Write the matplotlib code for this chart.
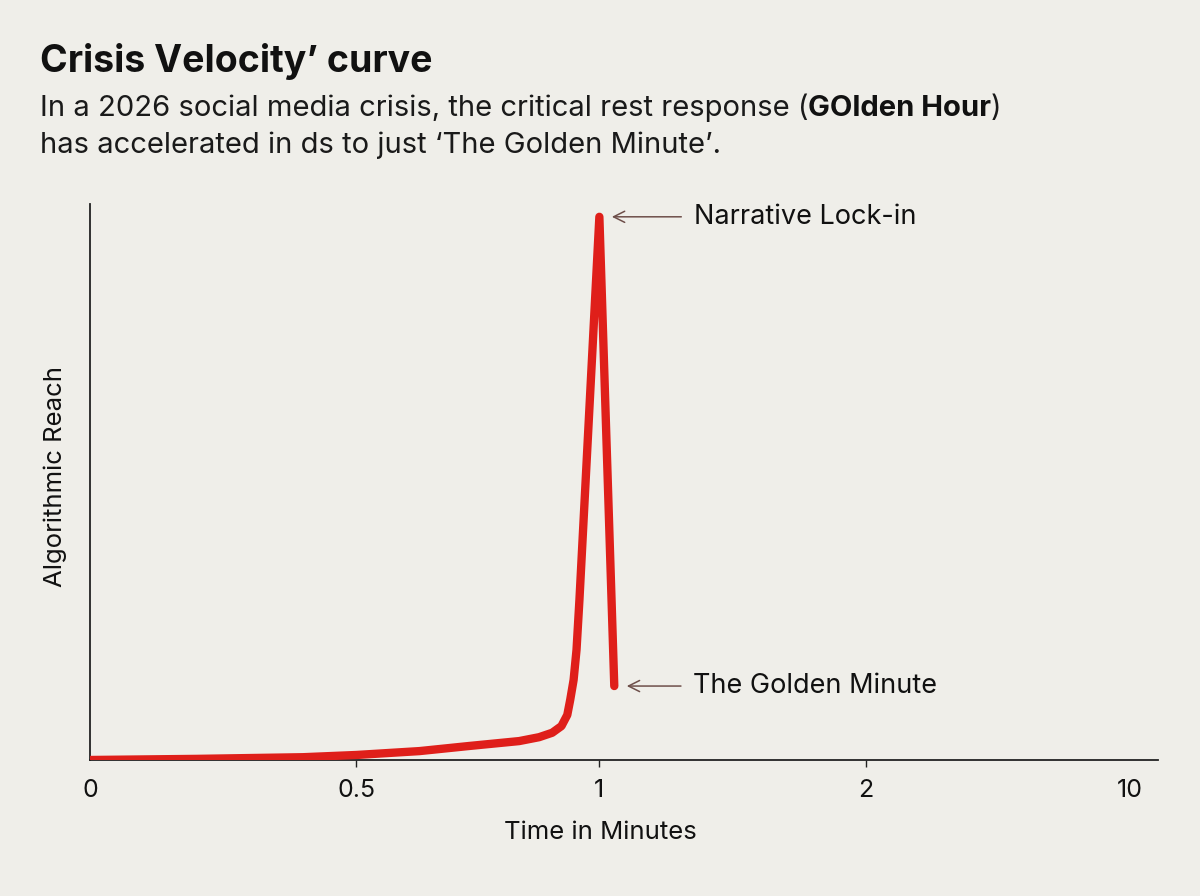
import numpy as np
import matplotlib.pyplot as plt

plt.rcParams['font.family'] = ['Inter', 'DejaVu Sans']

# tick values (minutes) and where they sit along the axis (even-ish spacing)
tick_values = [0, 0.5, 1, 2, 10]
tick_labels = ['0', '0.5', '1', '2', '10']
scale_values = [0, 0.5, 1, 2, 10, 11]
scale_slots = [0, 1.0, 1.913, 2.913, 3.906, 4.011]

# curve: time in minutes, reach 0-100
minutes = [0, 0.2, 0.4, 0.5, 0.63, 0.73, 0.835, 0.876, 0.903, 0.922, 0.934,
           0.94, 0.947, 0.953, 0.959, 1.0, 1.056]
reach = [0, 0.2, 0.5, 0.9, 1.6, 2.5, 3.4, 4.1, 4.9, 6.1, 8.1,
         10.8, 14.4, 19.8, 28.8, 97.7, 13.3]

peak_label = 'Narrative Lock-in'
end_label = 'The Golden Minute'

bg = '#efeee9'
red = '#df1f1a'
arrow_col = '#6e4f4a'


def forward(x):
    return np.interp(x, scale_values, scale_slots)


def inverse(x):
    return np.interp(x, scale_slots, scale_values)


fig = plt.figure(figsize=(12, 8.96), dpi=100, facecolor=bg)
ax = fig.add_axes([0.075, 0.1518, 0.89, 0.6205], facecolor=bg)
ax.set_xscale('function', functions=(forward, inverse))
ax.set_xlim(0, 11)
ax.set_ylim(0, 100)

ax.plot(minutes, reach, color=red, lw=6, solid_capstyle='round',
        solid_joinstyle='round', zorder=3)

ax.set_xticks(tick_values)
ax.set_xticklabels(tick_labels)
ax.tick_params(axis='x', length=5, width=1, color='#222222', pad=9,
               labelsize=18, labelcolor='#111111')
ticks = ax.xaxis.get_major_ticks()
ticks[0].tick1line.set_visible(False)
ticks[-1].tick1line.set_visible(False)
ax.set_yticks([])

for s in ['top', 'right']:
    ax.spines[s].set_visible(False)
for s in ['left', 'bottom']:
    ax.spines[s].set_color('#222222')
    ax.spines[s].set_linewidth(1.3)

ax.set_xlabel('Time in Minutes', fontsize=18.5, color='#111111')
ax.xaxis.set_label_coords(0.4775, -0.11)
ax.set_ylabel('Algorithmic Reach', fontsize=18.5, color='#111111')
ax.yaxis.set_label_coords(-0.022, 0.51)

arrow = dict(arrowstyle='->', color=arrow_col, lw=1.1, shrinkA=7, shrinkB=9,
             mutation_scale=20)
ax.annotate(peak_label, xy=(minutes[-2], reach[-2]), xytext=(68, 0),
            textcoords='offset points', ha='left', va='center', fontsize=19.5,
            color='#111111', arrowprops=arrow)
ax.annotate(end_label, xy=(minutes[-1], reach[-1]), xytext=(57, 0),
            textcoords='offset points', ha='left', va='center', fontsize=19.5,
            color='#111111', arrowprops=arrow)

# title and subtitle
fig.text(0.033, 0.931, 'Crisis Velocity\u2019 curve', fontsize=27,
         fontweight='bold', color='#111111', va='center')
t1 = fig.text(0.033, 0.87,
              'In a 2026 social media crisis, the critical rest response (',
              fontsize=21, color='#1a1a1a', va='baseline')
t2 = fig.text(0, 0, 'GOlden Hour', fontsize=21, fontweight='bold',
              color='#111111', va='baseline')
t3 = fig.text(0, 0, ')', fontsize=21, color='#1a1a1a', va='baseline')
fig.canvas.draw()
r = fig.canvas.get_renderer()
inv = fig.transFigure.inverted()
# place the bold part right after the first piece, on the same baseline
bb = t1.get_window_extent(r)
x0, _ = inv.transform((bb.x1, 0))
t2.set_position((x0, 0.87))
fig.canvas.draw()
bb2 = t2.get_window_extent(r)
x1, _ = inv.transform((bb2.x1, 0))
t3.set_position((x1, 0.87))
fig.text(0.033, 0.829, 'has accelerated in ds to just \u2018The Golden Minute\u2019.',
         fontsize=21, color='#1a1a1a', va='baseline')

fig.savefig('out.png', dpi=100, facecolor=bg)
